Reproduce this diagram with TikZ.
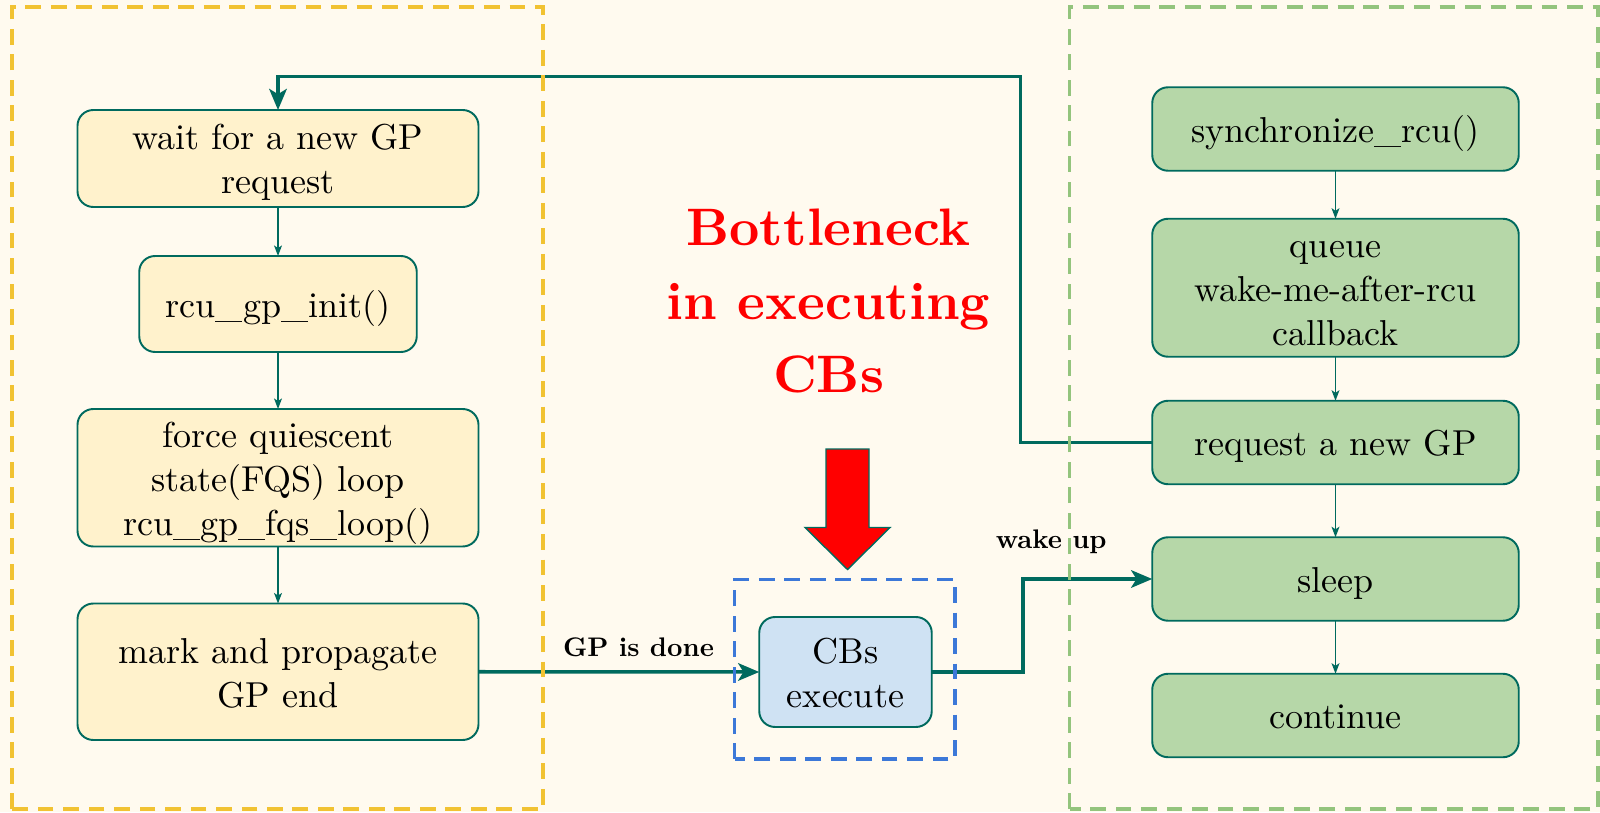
\documentclass[tikz,border=0pt]{standalone}
\usepackage{fontspec}
\setmainfont{lmroman10-regular.otf}[BoldFont=lmroman10-bold.otf]
\usepackage{tikz}
\usetikzlibrary{arrows.meta, positioning}
\definecolor{edge}{RGB}{0,106,94}
\definecolor{paper}{RGB}{255,250,239}
\definecolor{gpfill}{RGB}{255,242,204}
\definecolor{waitfill}{RGB}{182,215,168}
\definecolor{cbfill}{RGB}{207,226,243}
\definecolor{gpdash}{RGB}{241,194,50}
\definecolor{waitdash}{RGB}{147,196,125}
\definecolor{cbdash}{RGB}{60,120,216}
\tikzstyle{block} = [rectangle, draw=edge, line width=1.1pt, rounded corners=9pt,
    align=center, inner sep=1pt, outer sep=0pt, text height=20pt, text depth=4.8pt,
    font=\fontsize{20.5}{25}\selectfont]
\tikzstyle{twolines} = [text height=45pt]
\tikzstyle{threelines} = [text height=70pt]
\tikzstyle{gpblock} = [block, fill=gpfill, minimum width=8.02cm, minimum height=1.94cm]
\tikzstyle{waitblock} = [block, fill=waitfill, minimum width=7.33cm, minimum height=1.67cm]
\tikzstyle{cbblock} = [block, fill=cbfill, minimum width=3.45cm, minimum height=2.2cm]
\tikzstyle{line} = [draw=edge, line width=0.85pt, -{Stealth[length=6pt, width=4.5pt, inset=1.5pt]}]
\tikzstyle{flow} = [draw=edge, line width=2pt, -{Stealth[length=12pt, width=10pt, inset=3pt]}]
\tikzstyle{group} = [line width=1.8pt, dash pattern=on 9pt off 5.5pt]
\tikzstyle{tag} = [font=\fontsize{15.3}{18}\selectfont\bfseries]

\begin{document}
\begin{tikzpicture}
        % Canvas
        \fill [paper] (0,0) rectangle (32,16.24);
        \useasboundingbox (0,0) rectangle (32,16.24);
        % GP kthread
        \node [gpblock, twolines] (wait) at (5.56,13.07) {wait for a new GP\\request};
        \node [gpblock, minimum width=5.55cm, minimum height=1.92cm, below=0.98cm of wait] (init) {rcu\_gp\_init()};
        \node [gpblock, threelines, minimum height=2.75cm, below=1.14cm of init] (fqs) {force quiescent\\state(FQS) loop\\rcu\_gp\_fqs\_loop()};
        \node [gpblock, twolines, minimum height=2.73cm, below=1.14cm of fqs] (mark) {mark and propagate\\GP end};
        % Caller side
        \node [waitblock] (sync) at (26.71,13.66) {synchronize\_rcu()};
        \node [waitblock, threelines, minimum height=2.76cm, below=0.96cm of sync] (queue) {queue\\wake-me-after-rcu\\callback};
        \node [waitblock, below=0.88cm of queue] (request) {request a new GP};
        \node [waitblock, below=1.06cm of request] (sleep) {sleep};
        \node [waitblock, below=1.06cm of sleep] (cont) {continue};
        % Callback invocation
        \node [cbblock, twolines] (cbs) at (16.91,2.8) {CBs\\execute};
        \node [text=red, align=center, font=\fontsize{30}{41.7}\selectfont\bfseries] (neck) at (16.57,10.22) {Bottleneck\\in executing\\CBs};
        \draw [edge, fill=red, line width=0.8pt] (16.52,7.26) -- (17.38,7.26) -- (17.38,5.69) -- (17.80,5.69)
            -- (16.95,4.85) -- (16.10,5.69) -- (16.52,5.69) -- cycle;
        % Draw edges
        \path [line] (wait) -- (init);
        \path [line] (init) -- (fqs);
        \path [line] (fqs) -- (mark);
        \path [line] (sync) -- (queue);
        \path [line] (queue) -- (request);
        \path [line] (request) -- (sleep);
        \path [line] (sleep) -- (cont);
        \coordinate (back) at (20.41,14.71);
        \path [flow] (request.west) -| (back) -| (wait.north);
        \path [flow] (mark.east) -- node [tag, pos=0.57, above=4pt] {GP is done} (cbs.west);
        \path [flow] (cbs.east) -- ++(1.82,0) |- node [tag, pos=0.61, above=10pt] {wake up} (sleep.west);
        % Groups
        \draw [group, gpdash] (0.24,0.06) rectangle (10.86,16.10);
        \draw [group, waitdash] (21.39,0.06) rectangle (31.96,16.10);
        \draw [group, cbdash] (14.69,1.06) rectangle (19.10,4.65);
\end{tikzpicture}
\end{document}
